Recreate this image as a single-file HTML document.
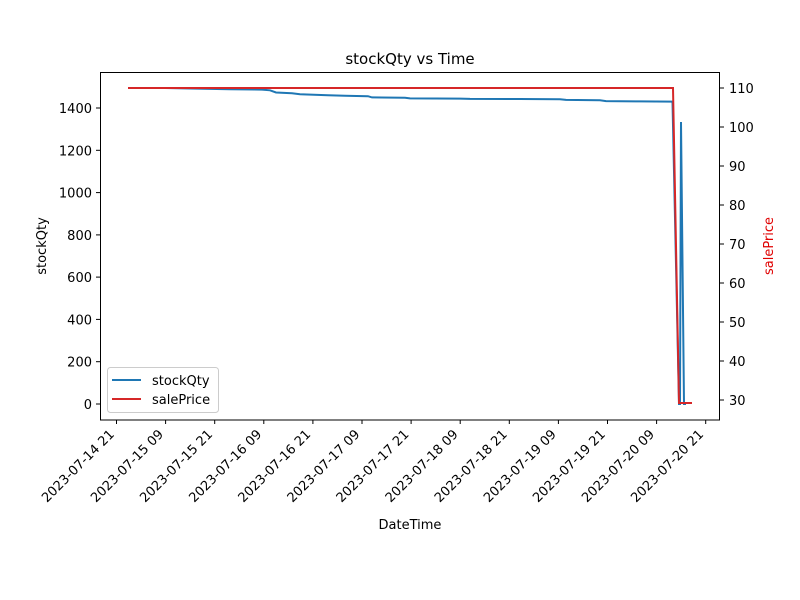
<!DOCTYPE html>
<html><head><style>body{margin:0;background:#fff}svg{display:block}text{font-family:"DejaVu Sans","Liberation Sans",sans-serif;font-size:13px;fill:#000}</style></head>
<body>
<svg width="800" height="600" xmlns="http://www.w3.org/2000/svg">
<rect width="800" height="600" fill="#fff"/>
<text x="410" y="64" text-anchor="middle" font-size="15" style="font-size:15px">stockQty vs Time</text>
<polyline fill="none" stroke="#1f77b4" stroke-width="2" points="128,88 165,88 190,88.5 230,89.2 262,89.6 270,90.3 276,92.5 292,93.2 300,94.2 328,95.3 345,95.8 368,96.2 372,97.4 405,97.8 410,98.4 460,98.6 470,98.9 520,99 560,99.2 566,99.9 600,100.3 606,101.1 640,101.4 672,101.6 672.5,102 679,404 680,404 681,122 684,404 686,404"/>
<polyline fill="none" stroke="#d62728" stroke-width="2" points="128,88 673,88 679,403 692,403"/>
<rect x="100.5" y="72.5" width="619" height="347.5" fill="none" stroke="#000" stroke-width="1"/>
<g stroke="#000" stroke-width="1">
<line x1="96" x2="100" y1="404" y2="404"/><line x1="96" x2="100" y1="361.7" y2="361.7"/><line x1="96" x2="100" y1="319.4" y2="319.4"/><line x1="96" x2="100" y1="277.1" y2="277.1"/><line x1="96" x2="100" y1="234.9" y2="234.9"/><line x1="96" x2="100" y1="192.6" y2="192.6"/><line x1="96" x2="100" y1="150.3" y2="150.3"/><line x1="96" x2="100" y1="108" y2="108"/>
</g>
<g text-anchor="end">
<text x="92" y="409">0</text><text x="92" y="366.7">200</text><text x="92" y="324.4">400</text><text x="92" y="282.1">600</text><text x="92" y="239.9">800</text><text x="92" y="197.6">1000</text><text x="92" y="155.3">1200</text><text x="92" y="113">1400</text>
</g>
<text transform="translate(46,246) rotate(-90)" text-anchor="middle">stockQty</text>
<g stroke="#000" stroke-width="1">
<line x1="720" x2="724" y1="400" y2="400"/><line x1="720" x2="724" y1="361" y2="361"/><line x1="720" x2="724" y1="322" y2="322"/><line x1="720" x2="724" y1="283" y2="283"/><line x1="720" x2="724" y1="244" y2="244"/><line x1="720" x2="724" y1="205" y2="205"/><line x1="720" x2="724" y1="166" y2="166"/><line x1="720" x2="724" y1="127" y2="127"/><line x1="720" x2="724" y1="88" y2="88"/>
</g>
<g>
<text x="729" y="405">30</text><text x="729" y="366">40</text><text x="729" y="327">50</text><text x="729" y="288">60</text><text x="729" y="249">70</text><text x="729" y="210">80</text><text x="729" y="171">90</text><text x="729" y="132">100</text><text x="729" y="93">110</text>
</g>
<text transform="translate(773,246) rotate(-90)" text-anchor="middle" style="fill:#e00000">salePrice</text>
<g stroke="#000" stroke-width="1">
<line x1="116.5" x2="116.5" y1="420" y2="424"/><line x1="165.6" x2="165.6" y1="420" y2="424"/><line x1="214.7" x2="214.7" y1="420" y2="424"/><line x1="263.8" x2="263.8" y1="420" y2="424"/><line x1="312.9" x2="312.9" y1="420" y2="424"/><line x1="362" x2="362" y1="420" y2="424"/><line x1="411.1" x2="411.1" y1="420" y2="424"/><line x1="460.2" x2="460.2" y1="420" y2="424"/><line x1="509.3" x2="509.3" y1="420" y2="424"/><line x1="558.4" x2="558.4" y1="420" y2="424"/><line x1="607.5" x2="607.5" y1="420" y2="424"/><line x1="656.6" x2="656.6" y1="420" y2="424"/><line x1="705.7" x2="705.7" y1="420" y2="424"/>
</g>
<g text-anchor="end" style="font-size:13.5px">
<text transform="translate(115,435) rotate(-45)">2023-07-14 21</text>
<text transform="translate(164.1,435) rotate(-45)">2023-07-15 09</text>
<text transform="translate(213.2,435) rotate(-45)">2023-07-15 21</text>
<text transform="translate(262.3,435) rotate(-45)">2023-07-16 09</text>
<text transform="translate(311.4,435) rotate(-45)">2023-07-16 21</text>
<text transform="translate(360.5,435) rotate(-45)">2023-07-17 09</text>
<text transform="translate(409.6,435) rotate(-45)">2023-07-17 21</text>
<text transform="translate(458.7,435) rotate(-45)">2023-07-18 09</text>
<text transform="translate(507.8,435) rotate(-45)">2023-07-18 21</text>
<text transform="translate(556.9,435) rotate(-45)">2023-07-19 09</text>
<text transform="translate(606,435) rotate(-45)">2023-07-19 21</text>
<text transform="translate(655.1,435) rotate(-45)">2023-07-20 09</text>
<text transform="translate(704.2,435) rotate(-45)">2023-07-20 21</text>
</g>
<text x="410" y="529" text-anchor="middle">DateTime</text>
<rect x="107.5" y="367.5" width="111" height="45" rx="3" fill="#fff" fill-opacity="0.8" stroke="#ccc"/>
<line x1="112" x2="141" y1="380" y2="380" stroke="#1f77b4" stroke-width="2"/>
<line x1="112" x2="141" y1="399" y2="399" stroke="#d62728" stroke-width="2"/>
<text x="152" y="385">stockQty</text>
<text x="152" y="404">salePrice</text>
</svg>
</body></html>
